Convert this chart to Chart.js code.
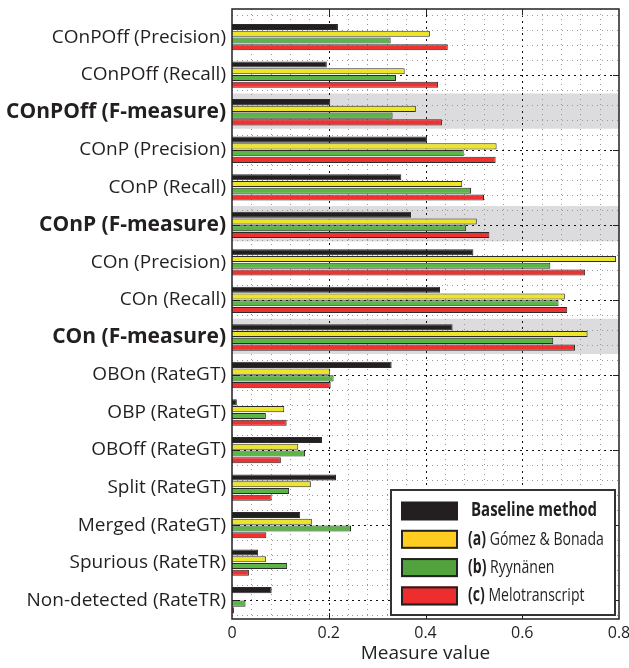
<!DOCTYPE html>
<html>
<head>
<meta charset="utf-8">
<script src="https://cdn.jsdelivr.net/npm/chart.js@4/dist/chart.umd.min.js"></script>
<style>
  html, body { margin: 0; padding: 0; background: #fff; }
  #wrap { width: 629px; height: 668px; }
</style>
</head>
<body>
<div id="wrap"><canvas id="c" width="629" height="668"></canvas></div>
<script>
/* Datos */
const categories = [
  "COnPOff (Precision)", "COnPOff (Recall)", "COnPOff (F-measure)",
  "COnP (Precision)", "COnP (Recall)", "COnP (F-measure)",
  "COn (Precision)", "COn (Recall)", "COn (F-measure)",
  "OBOn (RateGT)", "OBP (RateGT)", "OBOff (RateGT)", "Split (RateGT)",
  "Merged (RateGT)", "Spurious (RateTR)", "Non-detected (RateTR)"
];
const seriesNames = ["Baseline method", "Gómez & Bonada", "Ryynänen", "Melotranscript"];
const seriesTags = ["", "(a)", "(b)", "(c)"];
const baseline = [0.219, 0.196, 0.203, 0.403, 0.350, 0.370, 0.499, 0.430, 0.456, 0.330, 0.010, 0.186, 0.215, 0.141, 0.054, 0.082];
const gomez    = [0.409, 0.357, 0.380, 0.547, 0.476, 0.506, 0.794, 0.688, 0.735, 0.203, 0.108, 0.137, 0.163, 0.165, 0.070, 0.000];
const ryynanen = [0.328, 0.339, 0.332, 0.479, 0.494, 0.484, 0.658, 0.675, 0.664, 0.210, 0.070, 0.151, 0.118, 0.246, 0.114, 0.028];
const melo     = [0.446, 0.426, 0.434, 0.545, 0.521, 0.532, 0.730, 0.693, 0.709, 0.204, 0.113, 0.101, 0.082, 0.071, 0.035, 0.004];
const xTicks = [0, 0.2, 0.4, 0.6, 0.8];

const barColors = ["#231f20", "#ede628", "#5cb646", "#ee3131"];
const legendColors = ["#231f20", "#ffcd22", "#52a23d", "#ee2e2e"];
const FONT = "'Open Sans', 'DejaVu Sans', sans-serif";

const isF = (label) => label.includes("F-measure");

// bandas grises, rejilla punteada y marco (estilo MATLAB)
const backdrop = {
  id: "backdrop",
  beforeDatasetsDraw(chart){
    const {ctx, chartArea:a, scales:{x, y}} = chart;
    ctx.save();
    ctx.fillStyle = "#dcdcdf";
    categories.forEach((c, i) => {
      if (!isF(c)) return;
      const t = y.getPixelForValue(i + 1 - 0.5), b = y.getPixelForValue(i + 1 + 0.44);
      ctx.fillRect(a.left, t, a.right - a.left, b - t);
    });
    // verticales cada 0.04
    for (let k = 1; k < 20; k++){
      const px = Math.round(x.getPixelForValue(k * 0.04)) + 0.5;
      const major = k % 5 === 0;
      ctx.beginPath();
      ctx.setLineDash(major ? [2, 4] : [1, 4]);
      ctx.strokeStyle = major ? "#111" : "#999";
      ctx.lineWidth = 1;
      ctx.moveTo(px, a.top); ctx.lineTo(px, a.bottom); ctx.stroke();
    }
    // horizontales cada 0.4 filas, principales en filas pares
    for (let m = 1; m <= 41; m++){
      const py = Math.round(y.getPixelForValue(m * 0.4)) + 0.5;
      const major = m % 5 === 0;
      ctx.beginPath();
      ctx.setLineDash(major ? [2, 4] : [1, 4]);
      ctx.strokeStyle = major ? "#111" : "#999";
      ctx.moveTo(a.left, py); ctx.lineTo(a.right, py); ctx.stroke();
    }
    ctx.restore();
  },
  afterDatasetsDraw(chart){
    const {ctx, chartArea:a, scales:{x, y}} = chart;
    ctx.save();
    ctx.strokeStyle = "#222";
    ctx.lineWidth = 1.5;
    ctx.setLineDash([]);
    ctx.strokeRect(a.left, a.top, a.right - a.left, a.bottom - a.top);
    ctx.lineWidth = 1;
    xTicks.slice(1, -1).forEach(v => {
      const px = Math.round(x.getPixelForValue(v)) + 0.5;
      ctx.beginPath();
      ctx.moveTo(px, a.top); ctx.lineTo(px, a.top + 6);
      ctx.moveTo(px, a.bottom); ctx.lineTo(px, a.bottom - 6);
      ctx.stroke();
    });
    for (let r = 2; r <= 16; r += 2){
      const py = Math.round(y.getPixelForValue(r)) + 0.5;
      ctx.beginPath();
      ctx.moveTo(a.left, py); ctx.lineTo(a.left + 6, py);
      ctx.moveTo(a.right, py); ctx.lineTo(a.right - 6, py);
      ctx.stroke();
    }
    ctx.restore();
  }
};

// leyenda en recuadro abajo a la derecha
const boxLegend = {
  id: "boxLegend",
  afterDraw(chart){
    const {ctx} = chart;
    const L = 391, T = 490, W = 224, H = 125;
    ctx.save();
    ctx.fillStyle = "#fff";
    ctx.fillRect(L, T, W, H);
    ctx.strokeStyle = "#333";
    ctx.lineWidth = 2;
    ctx.strokeRect(L, T, W, H);
    seriesNames.forEach((name, i) => {
      const cy = 511 + i * 28.3;
      ctx.fillStyle = legendColors[i];
      ctx.fillRect(401, cy - 9.5, 57, 19);
      if (i > 0){
        ctx.strokeStyle = "#222";
        ctx.lineWidth = 2;
        ctx.strokeRect(402, cy - 8.5, 55, 17);
      }
      ctx.save();
      ctx.translate(i === 0 ? 471 : 468, cy);
      ctx.scale(i === 0 ? 0.79 : 0.74, 1);
      ctx.fillStyle = "#231f20";
      ctx.textBaseline = "middle";
      ctx.textAlign = "left";
      ctx.font = "bold 19px " + FONT;
      if (i === 0){
        ctx.fillText(name, 0, 0);
      } else {
        ctx.fillText(seriesTags[i], 0, 0);
        const w = ctx.measureText(seriesTags[i] + " ").width;
        ctx.font = "19px " + FONT;
        ctx.fillText(name, w, 0);
      }
      ctx.restore();
    });
    ctx.restore();
  }
};

const series = [baseline, gomez, ryynanen, melo];
const datasets = series.map((vals, s) => ({
  label: seriesNames[s],
  data: categories.map((c, i) => ({x: vals[i], y: i + 1})),
  backgroundColor: barColors[s],
  borderColor: "#2b2b2b",
  borderWidth: 1,
  categoryPercentage: 0.72,
  barPercentage: 0.9
}));

new Chart(document.getElementById("c").getContext("2d"), {
  type: "bar",
  data: {datasets},
  plugins: [backdrop, boxLegend],
  options: {
    indexAxis: "y",
    responsive: false,
    animation: false,
    layout: {padding: {top: 9, right: 10, left: 0, bottom: 0}},
    plugins: {legend: {display: false}, tooltip: {enabled: false}},
    scales: {
      x: {
        type: "linear",
        min: 0, max: 0.8,
        afterBuildTicks: (s) => { s.ticks = xTicks.map(v => ({value: v})); },
        afterFit: (s) => { s.height = 49; s.paddingLeft = 0; s.paddingRight = 0; },
        grid: {display: false, drawTicks: false},
        border: {display: false},
        ticks: {
          padding: 5,
          color: "#231f20",
          font: {family: FONT, size: 16},
          callback: (v) => String(Math.round(v * 10) / 10)
        },
        title: {
          display: true, text: "Measure value",
          color: "#231f20",
          font: {family: FONT, size: 19},
          padding: {top: 0, bottom: 3}
        }
      },
      y: {
        type: "linear",
        reverse: true,
        offset: false,
        min: 0.25, max: 16.5,
        afterBuildTicks: (s) => { s.ticks = categories.map((c, i) => ({value: i + 1})); },
        afterFit: (s) => { s.width = 232; s.paddingTop = 0; s.paddingBottom = 0; },
        grid: {display: false, drawTicks: false},
        border: {display: false},
        ticks: {
          padding: 6,
          color: "#231f20",
          autoSkip: false,
          font: (ctx) => {
            const lab = categories[(ctx.tick ? ctx.tick.value : 1) - 1] || "";
            return isF(lab) ? {family: FONT, size: 21, weight: "bold"} : {family: FONT, size: 19};
          },
          callback: (v) => categories[v - 1]
        }
      }
    }
  }
});
</script>
</body>
</html>
